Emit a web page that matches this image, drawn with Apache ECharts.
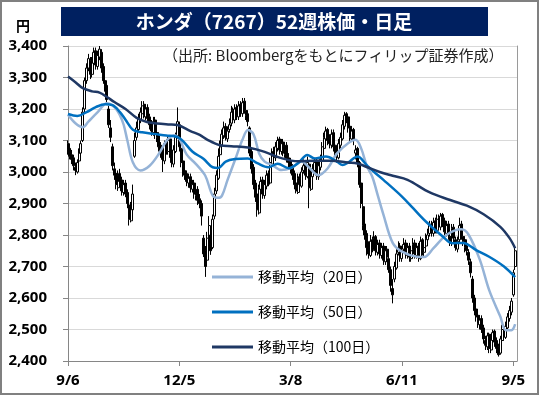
<!DOCTYPE html>
<html>
<head>
<meta charset="utf-8">
<title>ホンダ（7267）52週株価・日足</title>
<script src="https://cdn.jsdelivr.net/npm/echarts@6/dist/echarts.min.js"></script>
<style>
  html, body { margin: 0; padding: 0; background: #fff; }
  #chart { width: 542px; height: 397px; }
</style>
</head>
<body>
<div id="chart"></div>
<script>
// 営業日 (2018/9/6 - 2019/9/6)
const dates = [
  '9/6','9/7','9/10','9/11','9/12','9/13','9/14','9/18','9/19','9/20','9/21','9/25','9/26','9/27','9/28',
  '10/1','10/2','10/3','10/4','10/5','10/9','10/10','10/11','10/12','10/15','10/16','10/17','10/18','10/19','10/22','10/23','10/24','10/25','10/26','10/29','10/30','10/31',
  '11/1','11/2','11/5','11/6','11/7','11/8','11/9','11/12','11/13','11/14','11/15','11/16','11/19','11/20','11/21','11/22','11/26','11/27','11/28','11/29','11/30',
  '12/3','12/4','12/5','12/6','12/7','12/10','12/11','12/12','12/13','12/14','12/17','12/18','12/19','12/20','12/21','12/25','12/26','12/27','12/28',
  '1/4','1/7','1/8','1/9','1/10','1/11','1/15','1/16','1/17','1/18','1/21','1/22','1/23','1/24','1/25','1/28','1/29','1/30','1/31',
  '2/1','2/4','2/5','2/6','2/7','2/8','2/12','2/13','2/14','2/15','2/18','2/19','2/20','2/21','2/22','2/25','2/26','2/27','2/28',
  '3/1','3/4','3/5','3/6','3/7','3/8','3/11','3/12','3/13','3/14','3/15','3/18','3/19','3/20','3/22','3/25','3/26','3/27','3/28','3/29',
  '4/1','4/2','4/3','4/4','4/5','4/8','4/9','4/10','4/11','4/12','4/15','4/16','4/17','4/18','4/19','4/22','4/23','4/24','4/25','4/26',
  '5/7','5/8','5/9','5/10','5/13','5/14','5/15','5/16','5/17','5/20','5/21','5/22','5/23','5/24','5/27','5/28','5/29','5/30','5/31',
  '6/3','6/4','6/5','6/6','6/7','6/10','6/11','6/12','6/13','6/14','6/17','6/18','6/19','6/20','6/21','6/24','6/25','6/26','6/27','6/28',
  '7/1','7/2','7/3','7/4','7/5','7/8','7/9','7/10','7/11','7/12','7/16','7/17','7/18','7/19','7/22','7/23','7/24','7/25','7/26','7/29','7/30','7/31',
  '8/1','8/2','8/5','8/6','8/7','8/8','8/9','8/13','8/14','8/15','8/16','8/19','8/20','8/21','8/22','8/23','8/26','8/27','8/28','8/29','8/30',
  '9/2','9/3','9/4','9/5','9/6'
];

// 四本値
const open = [
  3090,3075,3055,3045,3015,3000,3035,3060,3100,3200,
  3290,3330,3355,3310,3345,3385,3335,3365,3380,3335,
  3290,3275,3200,3140,3080,3010,2995,2950,2995,2975,
  2935,2965,2935,2895,2845,2880,3050,3110,3135,3165,
  3185,3215,3175,3205,3175,3155,3125,3165,3125,3115,
  3085,3065,3035,3095,3065,3105,3065,3025,3065,3115,
  3150,3075,3035,3005,2995,2965,2985,2945,2965,2925,
  2945,2915,2900,2790,2750,2720,2790,2800,2760,2860,
  2940,2980,3055,3085,3115,3145,3105,3135,3155,3195,
  3165,3205,3175,3215,3185,3225,3195,3185,3140,3065,
  3015,2965,2930,2870,2945,2975,2925,2955,2995,2965,
  3025,3065,3045,3075,3105,3065,3095,3055,3085,3045,
  3035,3015,2995,2965,2935,2985,2955,3005,3025,2985,
  3025,2945,2985,3005,3035,2985,3015,3035,3075,3105,
  3135,3105,3085,3125,3085,3065,3045,3085,3105,3145,
  3185,3175,3145,3105,3135,3060,3075,3030,2965,2890,
  2835,2805,2765,2735,2785,2755,2795,2745,2775,2735,
  2765,2715,2755,2725,2690,2630,2660,2695,2745,2765,
  2725,2755,2775,2735,2765,2725,2755,2775,2735,2765,
  2725,2785,2745,2765,2785,2805,2835,2805,2845,2815,
  2855,2825,2865,2845,2805,2835,2795,2775,2825,2785,
  2755,2785,2835,2795,2785,2765,2745,2715,2660,2600,
  2565,2545,2515,2535,2505,2465,2445,2485,2435,2465,
  2495,2465,2445,2425,2465,2505,2475,2505,2535,2555,
  2610,2700
];
const close = [
  3070,3050,3040,3020,3005,3030,3060,3090,3190,3290,
  3330,3360,3310,3350,3380,3340,3370,3390,3330,3290,
  3270,3230,3150,3110,3020,2990,2960,2990,2970,2940,
  2960,2930,2900,2850,2890,2930,3100,3140,3170,3190,
  3210,3180,3200,3170,3150,3130,3160,3120,3110,3080,
  3060,3040,3090,3070,3100,3060,3030,3070,3110,3160,
  3080,3030,3000,2990,2970,2980,2950,2960,2930,2940,
  2910,2900,2860,2740,2700,2790,2830,2750,2850,2930,
  2990,3050,3080,3120,3140,3110,3130,3150,3190,3170,
  3200,3180,3210,3190,3220,3200,3180,3160,3060,3010,
  2960,2920,2880,2950,2970,2930,2960,2990,2970,3030,
  3060,3050,3080,3100,3070,3090,3060,3080,3040,3030,
  3010,2990,2960,2940,2980,2960,3000,3020,2990,3030,
  2950,2990,3010,3030,2990,3020,3040,3080,3110,3130,
  3100,3090,3120,3080,3060,3050,3090,3110,3150,3180,
  3170,3140,3110,3130,3100,3070,3030,2960,2900,2830,
  2800,2760,2740,2780,2760,2790,2750,2770,2740,2760,
  2720,2750,2730,2690,2640,2610,2700,2740,2760,2730,
  2750,2770,2740,2760,2730,2750,2770,2740,2760,2730,
  2780,2750,2760,2790,2800,2830,2810,2840,2820,2850,
  2830,2860,2840,2810,2830,2800,2780,2820,2790,2760,
  2780,2830,2800,2780,2760,2750,2720,2680,2600,2560,
  2540,2520,2530,2500,2470,2450,2480,2440,2470,2490,
  2460,2440,2420,2470,2500,2480,2510,2540,2560,2590,
  2680,2750
];
const low = [
  3055,3040,3025,3005,2990,2995,3025,3050,3095,3190,
  3280,3320,3295,3300,3335,3325,3325,3355,3315,3280,
  3255,3215,3140,3095,3005,2975,2945,2940,2955,2925,
  2925,2920,2885,2830,2840,2875,3045,3100,3125,3155,
  3175,3170,3165,3160,3135,3115,3115,3105,3095,3065,
  3045,3000,3025,3055,3055,3045,3015,3015,3060,3105,
  3065,3015,2985,2975,2955,2950,2935,2935,2915,2910,
  2895,2885,2830,2730,2667,2715,2780,2737,2755,2850,
  2930,2975,3040,3075,3105,3100,3095,3125,3145,3155,
  3155,3165,3165,3175,3175,3185,3165,3145,3050,2995,
  2945,2905,2858,2865,2935,2915,2915,2945,2955,2960,
  3015,3040,3035,3065,3055,3055,3050,3045,3030,3015,
  2995,2975,2945,2932,2930,2945,2950,2995,2975,2980,
  2885,2940,2975,2995,2975,2975,3005,3030,3065,3095,
  3085,3075,3075,3065,3045,3030,3040,3075,3100,3135,
  3155,3125,3095,3095,3085,3040,3015,2950,2885,2815,
  2785,2735,2725,2730,2745,2750,2735,2735,2725,2725,
  2705,2705,2715,2680,2620,2583,2650,2690,2735,2715,
  2715,2745,2725,2725,2715,2715,2745,2725,2725,2715,
  2720,2735,2730,2755,2775,2795,2795,2795,2805,2805,
  2815,2815,2825,2795,2795,2785,2765,2765,2775,2750,
  2745,2775,2785,2765,2745,2735,2705,2665,2585,2545,
  2525,2505,2500,2489,2455,2435,2435,2425,2425,2455,
  2445,2425,2414,2420,2455,2465,2470,2500,2525,2545,
  2604,2689
];
const high = [
  3100,3085,3070,3055,3030,3040,3075,3100,3205,3300,
  3345,3375,3365,3365,3395,3395,3385,3400,3390,3345,
  3305,3285,3210,3165,3090,3030,3005,3005,3010,2985,
  2975,2975,2945,2905,2905,2960,3125,3160,3185,3205,
  3225,3225,3215,3215,3185,3165,3175,3175,3140,3125,
  3095,3075,3100,3105,3115,3110,3075,3085,3125,3205,
  3160,3085,3045,3020,3005,2995,2995,2975,2975,2955,
  2955,2930,2910,2800,2765,2810,2860,2810,2865,2950,
  3005,3075,3100,3135,3160,3155,3145,3170,3210,3205,
  3215,3215,3225,3225,3235,3235,3210,3195,3145,3075,
  3025,2975,2940,2960,2985,2985,2975,3005,3005,3045,
  3075,3080,3095,3112,3112,3105,3105,3095,3095,3060,
  3045,3025,3005,2975,2995,2995,3015,3040,3035,3049,
  3030,3005,3025,3045,3045,3035,3055,3095,3125,3144,
  3140,3120,3135,3135,3095,3080,3105,3125,3165,3191,
  3190,3180,3155,3145,3140,3085,3080,3035,2975,2900,
  2845,2815,2780,2800,2795,2812,2800,2785,2785,2775,
  2775,2765,2765,2735,2700,2660,2715,2755,2780,2775,
  2765,2790,2785,2775,2775,2765,2790,2785,2775,2775,
  2795,2790,2775,2805,2820,2845,2845,2855,2855,2865,
  2865,2870,2870,2855,2845,2845,2810,2835,2835,2795,
  2795,2855,2845,2810,2795,2780,2755,2725,2670,2610,
  2575,2560,2545,2545,2515,2480,2490,2490,2485,2500,
  2500,2475,2455,2480,2515,2515,2525,2552,2575,2600,
  2690,2768
];

// 移動平均（グラフから読み取った値、日付の番号と値）
const ma20Days = [0,4,8,11,16,21,25,28,30,32,35,39,44,49,53,57,60,64,69,74,78,81,83,86,90,94,97,100,103,106,110,115,120,126,129,135,140,145,151,155,158,161,164,167,170,175,180,188,192,197,204,212,216,222,227,233,236,239,241];
const ma20 = [3182,3155,3142,3160,3190,3218,3206,3180,3150,3100,3030,3005,3020,3058,3098,3117,3105,3055,3025,2988,2925,2918,2925,2975,3038,3102,3133,3120,3059,3033,3022,3006,3012,3033,3020,2990,3012,3059,3091,3102,3075,3020,2985,2925,2865,2775,2747,2731,2730,2758,2800,2818,2800,2721,2625,2541,2498,2498,2517];
const ma50Days = [0,5,10,15,20,24,28,31,35,40,46,53,59,62,67,73,78,81,85,90,97,102,108,113,119,124,129,133,139,145,148,151,156,161,165,170,180,186,193,202,207,213,220,227,235,241];
const ma50 = [3184,3178,3190,3206,3215,3212,3190,3166,3134,3126,3121,3116,3111,3098,3065,3042,3015,3013,3033,3041,3043,3028,3015,3026,3012,3028,3054,3043,3049,3033,3022,3030,3049,3022,3000,2975,2922,2885,2842,2795,2774,2775,2752,2731,2700,2666];
const ma100Days = [0,4,8,13,17,21,25,31,37,43,48,54,59,66,71,75,82,88,97,106,115,124,133,142,151,156,161,168,175,183,195,206,215,224,233,238,241];
const ma100 = [3303,3285,3266,3256,3252,3238,3222,3200,3172,3158,3154,3151,3149,3130,3118,3103,3085,3082,3078,3064,3044,3034,3036,3036,3030,3027,3016,3000,2988,2975,2935,2911,2893,2866,2826,2790,2758];

const FONT_JP = '"Noto Sans CJK JP", "Noto Sans", sans-serif';
const FONT_NUM = '"Noto Sans", "Noto Sans CJK JP", sans-serif';

// ローソク足データ [始値, 終値, 安値, 高値]
const candles = dates.map((d, i) => [open[i], close[i], low[i], high[i]]);

// 読み取った点だけ値を入れ、残りは null（線はつなぐ）
function fillLine(days, vals) {
  const arr = dates.map(() => null);
  days.forEach((d, k) => { arr[d] = vals[k]; });
  return arr;
}

function maSeries(name, days, vals, color) {
  return {
    name: name,
    type: 'line',
    data: fillLine(days, vals),
    connectNulls: true,
    smooth: 0.35,
    symbol: 'none',
    lineStyle: { color: color, width: 2.5 },
    itemStyle: { color: color },
    z: 3
  };
}

const chart = echarts.init(document.getElementById('chart'));
chart.setOption({
  animation: false,
  backgroundColor: '#fff',
  graphic: [
    // 外枠
    { type: 'rect', shape: { x: 1, y: 1, width: 537, height: 393 },
      style: { fill: 'none', stroke: '#808080', lineWidth: 2 }, z: 20 },
    // タイトル帯
    { type: 'rect', shape: { x: 61, y: 7, width: 427, height: 29 },
      style: { fill: '#002060' }, z: 10 },
    { type: 'text', x: 274, y: 22, z: 11,
      style: { text: 'ホンダ（7267）52週株価・日足', fill: '#fff', textAlign: 'center',
        textVerticalAlign: 'middle', font: 'bold 19px ' + FONT_JP } },
    { type: 'text', x: 23, y: 26, z: 11,
      style: { text: '円', fill: '#000', textAlign: 'center', textVerticalAlign: 'middle',
        font: 'bold 14px ' + FONT_JP } },
    { type: 'text', x: 163, y: 55, z: 11,
      style: { text: '（出所: Bloombergをもとにフィリップ証券作成）', fill: '#222',
        textAlign: 'left', textVerticalAlign: 'middle', font: '15px ' + FONT_JP } }
  ],
  legend: {
    orient: 'vertical',
    left: 207,
    top: 264,
    itemWidth: 41,
    itemHeight: 3,
    itemGap: 19,
    icon: 'rect',
    textStyle: { fontFamily: FONT_JP, fontSize: 14, color: '#000', lineHeight: 16 },
    data: ['移動平均（20日）', '移動平均（50日）', '移動平均（100日）']
  },
  grid: { left: 68, top: 46, right: 25, bottom: 36, containLabel: false, outerBoundsMode: 'none' },
  xAxis: {
    type: 'category',
    data: dates,
    boundaryGap: false,
    max: 242,
    axisLine: { lineStyle: { color: '#868686', width: 1 } },
    axisTick: { show: true, interval: 59, length: 5, lineStyle: { color: '#868686' } },
    axisLabel: {
      interval: 59, margin: 12, hideOverlap: false,
      color: '#000', fontFamily: FONT_NUM, fontWeight: 'bold', fontSize: 15
    },
    splitLine: { show: false }
  },
  yAxis: [
    {
      type: 'value',
      min: 2400,
      max: 3400,
      interval: 100,
      axisLine: { show: true, lineStyle: { color: '#868686', width: 1 } },
      axisTick: { show: true, length: 5, lineStyle: { color: '#868686' } },
      axisLabel: {
        margin: 21, color: '#000', fontFamily: FONT_NUM, fontWeight: 'bold', fontSize: 15,
        formatter: v => v.toLocaleString('en-US')
      },
      splitLine: { lineStyle: { color: '#d9d9d9', width: 1 } }
    },
    {
      // 右側の枠線
      type: 'value',
      position: 'right',
      min: 2400,
      max: 3400,
      interval: 100,
      axisLine: { show: true, lineStyle: { color: '#9a9a9a', width: 1 } },
      axisTick: { show: false },
      axisLabel: { show: false },
      splitLine: { show: false }
    }
  ],
  series: [
    {
      name: '株価',
      type: 'candlestick',
      data: candles,
      barWidth: 2.5,
      itemStyle: {
        color: '#fff', color0: '#000',
        borderColor: '#000', borderColor0: '#000', borderWidth: 1
      },
      z: 2
    },
    maSeries('移動平均（20日）', ma20Days, ma20, '#95B3D7'),
    maSeries('移動平均（50日）', ma50Days, ma50, '#0070C0'),
    maSeries('移動平均（100日）', ma100Days, ma100, '#1F3864')
  ]
});
</script>
</body>
</html>
